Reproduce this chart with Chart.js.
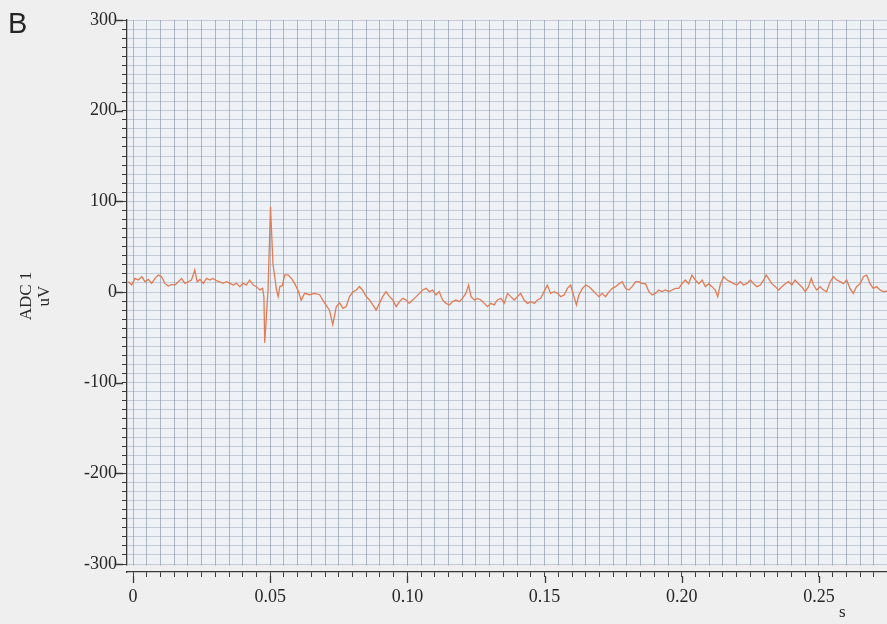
<!DOCTYPE html>
<html>
<head>
<meta charset="utf-8">
<script src="https://cdn.jsdelivr.net/npm/chart.js@4.4.1/dist/chart.umd.min.js"></script>
<style>
  html, body { margin: 0; padding: 0; background: #efefef; }
  canvas { display: block; }
</style>
</head>
<body>
<canvas id="chartAdc" width="887" height="624"></canvas>
<script>
// ── ADC 1 trace, panel B ──────────────────────────────────
// values

// time axis (s)
const timeS = [
  -0.0017, -0.0005, 0.0007, 0.0019, 0.0032, 0.0044, 0.0056, 0.0068, 0.0080, 0.0092,
  0.0104, 0.0116, 0.0128, 0.0141, 0.0153, 0.0165, 0.0177, 0.0189, 0.0201, 0.0213,
  0.0225, 0.0234, 0.0244, 0.0256, 0.0268, 0.0280, 0.0292, 0.0304, 0.0316, 0.0328,
  0.0341, 0.0353, 0.0365, 0.0377, 0.0389, 0.0401, 0.0413, 0.0425, 0.0438, 0.0450,
  0.0462, 0.0472, 0.0477, 0.0480, 0.0492, 0.0501, 0.0510, 0.0523, 0.0529, 0.0535,
  0.0544, 0.0553, 0.0565, 0.0577, 0.0589, 0.0601, 0.0613, 0.0625, 0.0644, 0.0662,
  0.0680, 0.0698, 0.0716, 0.0728, 0.0741, 0.0753, 0.0765, 0.0777, 0.0789, 0.0801,
  0.0813, 0.0825, 0.0837, 0.0850, 0.0862, 0.0874, 0.0886, 0.0898, 0.0910, 0.0922,
  0.0935, 0.0947, 0.0959, 0.0971, 0.0983, 0.0995, 0.1007, 0.1019, 0.1032, 0.1044,
  0.1056, 0.1068, 0.1080, 0.1092, 0.1104, 0.1116, 0.1128, 0.1141, 0.1153, 0.1165,
  0.1177, 0.1189, 0.1201, 0.1213, 0.1223, 0.1232, 0.1244, 0.1256, 0.1268, 0.1280,
  0.1292, 0.1304, 0.1316, 0.1328, 0.1341, 0.1353, 0.1365, 0.1377, 0.1389, 0.1401,
  0.1413, 0.1425, 0.1438, 0.1450, 0.1462, 0.1474, 0.1486, 0.1498, 0.1510, 0.1522,
  0.1535, 0.1547, 0.1559, 0.1571, 0.1583, 0.1595, 0.1607, 0.1616, 0.1625, 0.1638,
  0.1650, 0.1662, 0.1674, 0.1686, 0.1698, 0.1710, 0.1722, 0.1735, 0.1747, 0.1759,
  0.1771, 0.1783, 0.1795, 0.1807, 0.1819, 0.1832, 0.1844, 0.1856, 0.1868, 0.1880,
  0.1892, 0.1904, 0.1916, 0.1928, 0.1941, 0.1953, 0.1965, 0.1977, 0.1989, 0.2001,
  0.2013, 0.2025, 0.2037, 0.2050, 0.2062, 0.2074, 0.2086, 0.2098, 0.2110, 0.2122,
  0.2131, 0.2141, 0.2153, 0.2165, 0.2177, 0.2189, 0.2201, 0.2213, 0.2225, 0.2237,
  0.2250, 0.2262, 0.2274, 0.2286, 0.2298, 0.2308, 0.2316, 0.2328, 0.2341, 0.2353,
  0.2365, 0.2377, 0.2389, 0.2401, 0.2413, 0.2425, 0.2437, 0.2450, 0.2462, 0.2472,
  0.2480, 0.2492, 0.2504, 0.2516, 0.2528, 0.2541, 0.2553, 0.2565, 0.2577, 0.2589,
  0.2601, 0.2613, 0.2625, 0.2637, 0.2650, 0.2662, 0.2674, 0.2686, 0.2698, 0.2710,
  0.2723, 0.2735, 0.2748,
];

// ADC 1 amplitude (uV)
const adcUv = [
  11.3, 7.7, 15.0, 13.2, 16.8, 11.3, 13.9, 9.5, 15.0, 18.7,
  16.8, 9.5, 6.6, 8.4, 7.7, 11.3, 15.0, 9.5, 11.3, 13.2,
  24.2, 11.3, 13.9, 9.5, 15.0, 13.2, 15.0, 12.5, 11.3, 9.5,
  11.3, 9.5, 7.7, 9.5, 5.9, 9.5, 7.7, 13.2, 7.7, 5.9,
  2.2, 4.0, -5, -56, 2, 94, 31, 2, -5, 6,
  7, 19, 19, 15, 9.5, 2, -9, -1.5, -3, -1.5,
  -3, -12, -20, -36, -16, -12, -18, -16, -5, 0,
  2, 6, 2, -5, -8.8, -14.3, -19.8, -12.5, -5.1, 0.4,
  -5.1, -8.8, -16.1, -10.6, -7.0, -8.8, -12.5, -8.8, -5.1, -1.5,
  2.2, 4.0, 0.4, 2.2, -3.3, 0.4, -8.8, -12.5, -14.3, -10.6,
  -8.8, -10.6, -7.0, -1.5, 7.7, -5.1, -8.8, -7.0, -8.8, -12.5,
  -16.1, -12.5, -14.3, -8.8, -7.0, -12.5, -1.5, -5.1, -8.8, -5.1,
  -1.5, -8.8, -12.5, -10.6, -12.5, -8.8, -7.0, 0.4, 7.7, -1.5,
  0.4, -1.5, -5.1, -3.3, 4.0, 7.7, -5.1, -14.3, -3.3, 4.0,
  7.7, 5.9, 2.2, -1.5, -5.1, -1.5, -5.1, 0.4, 4.0, 5.9,
  9.2, 11.4, 4.0, 2.2, 5.9, 11.4, 11.4, 9.2, 9.2, 0.4,
  -3.3, -1.5, 2.2, 0.4, 2.2, 0.4, 2.2, 4.0, 4.0, 9.2,
  13.2, 9.2, 18.7, 13.2, 9.2, 13.2, 5.9, 9.2, 5.9, 2.2,
  -5.1, 9.2, 16.8, 13.2, 11.4, 9.2, 7.7, 11.4, 7.7, 9.2,
  13.2, 9.2, 5.9, 7.7, 13.2, 18.7, 15.0, 9.2, 5.9, 2.2,
  5.9, 9.2, 11.4, 7.7, 13.2, 9.2, 5.9, 0.4, 5.9, 15.0,
  7.7, 2.2, 5.9, 2.2, 0.4, 11.4, 16.8, 13.2, 11.4, 9.2,
  13.2, 4.0, -1.5, 5.9, 9.2, 16.8, 18.7, 9.2, 4.0, 5.9,
  2.2, 0.4, 1.0,
];

// axis ranges and tick spacing
const X_RANGE = [-0.0022, 0.2748];
const X_MINOR = 0.005;
const X_MAJOR = 0.05;
const Y_RANGE = [-308.8, 300];
const Y_MINOR = 10;
const Y_MAJOR = 100;
const Y_LABEL_MIN = -300;

const COLORS = {
  page:   '#efefef',
  paper:  '#eef1f5',
  gridV:  'rgba(100,116,138,0.48)',
  gridH:  'rgba(120,136,160,0.36)',
  axis:   '#3a3a3a',
  text:   '#262626',
  trace:  '#e07c56',
};

const SERIF = '"Liberation Serif", "Times New Roman", serif';

const isMultiple = (v, step) => Math.abs(v / step - Math.round(v / step)) < 1e-6;

// every multiple of step inside the scale range (Chart.js drops the
// first nice tick when it sits close to a non-round min)
function stepTicks(scale, step) {
  const ticks = [];
  const first = Math.ceil(scale.min / step - 1e-9);
  const last = Math.floor(scale.max / step + 1e-9);
  for (let k = first; k <= last; k++) {
    ticks.push({ value: +(k * step).toFixed(6) });
  }
  scale.ticks = ticks;
}

// paper background, gap below the grid, long major ticks, "B" and "s"
const decorPlugin = {
  id: 'decor',
  beforeDraw(chart) {
    const { ctx, chartArea: a, scales } = chart;
    const yLow = scales.y.getPixelForValue(Y_LABEL_MIN);
    ctx.save();
    ctx.fillStyle = COLORS.page;
    ctx.fillRect(0, 0, chart.width, chart.height);
    ctx.fillStyle = COLORS.paper;
    ctx.fillRect(a.left, a.top, a.right - a.left, yLow - a.top);
    ctx.restore();
  },
  beforeDatasetsDraw(chart) {
    // small blank strip between the paper grid and the time axis
    const { ctx, chartArea: a, scales } = chart;
    const yLow = scales.y.getPixelForValue(Y_LABEL_MIN);
    ctx.save();
    ctx.fillStyle = COLORS.page;
    ctx.fillRect(a.left - 2, yLow + 1.5, a.right - a.left + 2, a.bottom - yLow - 2.5);
    ctx.restore();
  },
  afterDraw(chart) {
    const { ctx, chartArea: a, scales } = chart;
    ctx.save();
    ctx.strokeStyle = COLORS.axis;
    ctx.lineWidth = 1.3;
    ctx.beginPath();
    for (let v = Y_LABEL_MIN; v <= Y_RANGE[1]; v += Y_MAJOR) {
      const y = Math.round(scales.y.getPixelForValue(v)) + 0.5;
      ctx.moveTo(a.left - 11, y);
      ctx.lineTo(a.left - 4, y);
    }
    for (let v = 0; v <= X_RANGE[1]; v += X_MAJOR) {
      const x = Math.round(scales.x.getPixelForValue(v)) + 0.5;
      ctx.moveTo(x, a.bottom + 4);
      ctx.lineTo(x, a.bottom + 11);
    }
    ctx.stroke();

    ctx.fillStyle = COLORS.text;
    ctx.font = '29px "Liberation Sans", Arial, sans-serif';
    ctx.textBaseline = 'alphabetic';
    ctx.fillText('B', 8, 33);
    ctx.font = '17px ' + SERIF;
    ctx.fillText('s', scales.x.getPixelForValue(0.2573), 617);
    ctx.restore();
  },
};

const points = timeS.map((t, i) => ({ x: t, y: adcUv[i] }));

new Chart(document.getElementById('chartAdc'), {
  type: 'line',
  data: {
    datasets: [{
      data: points,
      borderColor: COLORS.trace,
      borderWidth: 1.3,
      pointRadius: 0,
      tension: 0,
      fill: false,
    }],
  },
  options: {
    responsive: false,
    animation: false,
    layout: { padding: { top: 20, right: 0, bottom: 0, left: 0 } },
    plugins: { legend: { display: false }, tooltip: { enabled: false } },
    scales: {
      x: {
        type: 'linear',
        min: X_RANGE[0],
        max: X_RANGE[1],
        afterBuildTicks: s => stepTicks(s, X_MINOR),
        afterFit: s => { s.height = 52; },
        border: { color: COLORS.axis, width: 1.3 },
        grid: {
          color: COLORS.gridV,
          tickColor: COLORS.axis,
          tickLength: 5,
          lineWidth: 1,
        },
        ticks: {
          autoSkip: false,
          maxRotation: 0,
          padding: 9,
          color: COLORS.text,
          font: { family: SERIF, size: 18 },
          callback: v => {
            if (!isMultiple(v, X_MAJOR)) return '';
            return Math.abs(v) < 1e-9 ? '0' : v.toFixed(2);
          },
        },
      },
      y: {
        type: 'linear',
        min: Y_RANGE[0],
        max: Y_RANGE[1],
        afterBuildTicks: s => stepTicks(s, Y_MINOR),
        afterFit: s => { s.width = 127; },
        border: { color: COLORS.axis, width: 1.3 },
        grid: {
          color: COLORS.gridH,
          tickColor: COLORS.axis,
          tickLength: 5,
          lineWidth: 1,
        },
        ticks: {
          autoSkip: false,
          padding: 5,
          color: COLORS.text,
          font: { family: SERIF, size: 18 },
          callback: v => isMultiple(v, Y_MAJOR) && v >= Y_LABEL_MIN ? String(Math.round(v)) : '',
        },
        title: {
          display: true,
          text: ['ADC 1', 'uV'],
          color: COLORS.text,
          font: { family: SERIF, size: 17, lineHeight: 1.05 },
          padding: { top: 18, bottom: 0 },
        },
      },
    },
  },
  plugins: [decorPlugin],
});
</script>
</body>
</html>
